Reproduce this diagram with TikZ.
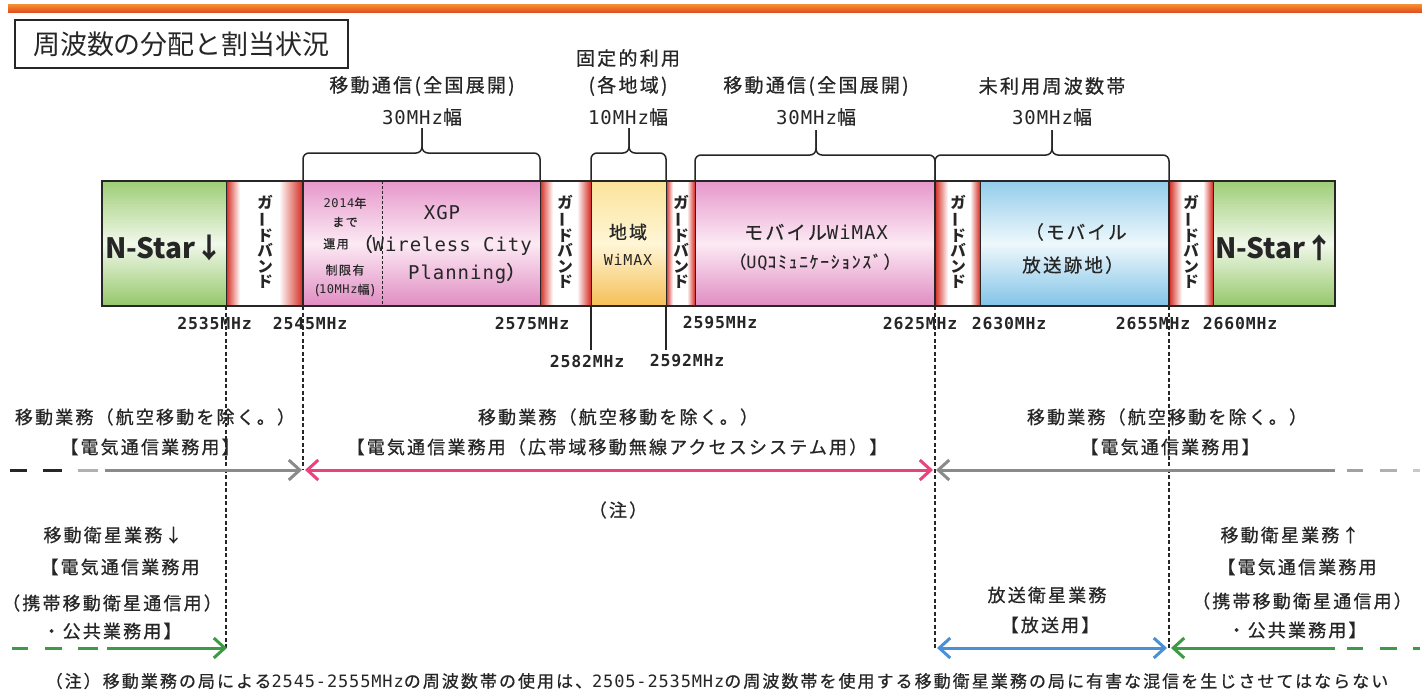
\documentclass[tikz,border=0pt]{standalone}
\usepackage{fontspec}
\usepackage{graphicx}
\setmainfont{Noto Sans CJK JP}[LetterSpace=12, RawFeature={embolden=0.7}]
\newfontfamily\jpn{Noto Sans CJK JP}
\newfontfamily\mono{DejaVu Sans Mono}[LetterSpace=5]
\usetikzlibrary{arrows.meta}
\newcommand\lat[1]{{\mono #1}}
\definecolor{txt}{HTML}{262626}
\definecolor{gbred}{HTML}{D42A20}
\definecolor{grnA}{HTML}{9ECD76}
\definecolor{grnB}{HTML}{F1F8EA}
\definecolor{grnC}{HTML}{94C76A}
\definecolor{pnkA}{HTML}{E697CB}
\definecolor{pnkB}{HTML}{FCEAF4}
\definecolor{pnkC}{HTML}{E08CC2}
\definecolor{bluA}{HTML}{93CDEB}
\definecolor{bluB}{HTML}{EEF8FC}
\definecolor{bluC}{HTML}{82C3E7}
\definecolor{ylwA}{HTML}{FBE39A}
\definecolor{ylwB}{HTML}{FFF6D6}
\definecolor{ylwC}{HTML}{F5BF57}
\definecolor{agray}{HTML}{8A8A8A}
\definecolor{lgray}{HTML}{B0B0B0}
\definecolor{apink}{HTML}{E8437C}
\definecolor{agreen}{HTML}{3D9B45}
\definecolor{ablue}{HTML}{4B90D6}
\definecolor{topor}{HTML}{F28A30}
\definecolor{topred}{HTML}{E0471E}
\newcommand\gband[4]{%
  \fill[white] (#1,181) rectangle (#2,306);
  \shade[left color=gbred, right color=white] (#1,181) rectangle ({#1+#3},306);
  \shade[left color=white, right color=gbred] ({#2-#4},181) rectangle (#2,306);
}
\newcommand\gbtxt{ガ\\\rotatebox[origin=c]{90}{ー}\\ド\\バ\\ン\\ド}
\begin{document}
\begin{tikzpicture}[x=1pt,y=-1pt,
  every node/.style={inner sep=0pt, text=txt},
  up/.style={font=\fontsize{19}{22}\selectfont},
  bot/.style={font=\fontsize{18}{21}\selectfont},
  sm/.style={font=\fontsize{12}{14}\selectfont},
  inb/.style={font=\fontsize{19}{22}\selectfont},
  freq/.style={font=\mono\bfseries\fontsize{16.5}{19}\selectfont},
  gbt/.style={align=center, font=\jpn\bfseries\fontsize{15.5}{15.5}\selectfont},
  nstar/.style={font=\jpn\bfseries\fontsize{28}{30}\selectfont},
  brace/.style={draw=txt, line width=1.5pt, rounded corners=6pt},
  vdash/.style={draw=txt, line width=1.1pt, dash pattern=on 4pt off 2.5pt},
  tick/.style={draw=txt, line width=1.2pt},
  arr/.style={line width=3pt, -{Straight Barb[length=11pt,width=20pt]}},
  darr/.style={line width=3pt, {Straight Barb[length=11pt,width=20pt]}-{Straight Barb[length=11pt,width=20pt]}},
  seg/.style={line width=3pt},
  vshade/.style n args={3}{top color=#1, bottom color=#3, middle color=#2}
]
\fill[white] (0,0) rectangle (1422,693);
\useasboundingbox (0,0) rectangle (1422,693);

% top rule
\shade[top color=topor, bottom color=topred] (8,5) rectangle (1422,13);

% title
\node[draw=txt, line width=2pt, minimum width=333pt, minimum height=48pt,
      font=\jpn\fontsize{27}{30}\selectfont] (title) at (181.5,44) {周波数の分配と割当状況};

% ---------- band bar ----------
\shade[vshade={grnA}{grnB}{grnC}] (102,181) rectangle (226,306);
\gband{226}{303}{14}{24}
\shade[vshade={pnkA}{pnkB}{pnkC}] (303,181) rectangle (540,306);
\gband{540}{591}{13}{14}
\shade[vshade={ylwA}{ylwB}{ylwC}] (591,181) rectangle (666,306);
\gband{666}{695}{7}{8}
\shade[vshade={pnkA}{pnkB}{pnkC}] (695,181) rectangle (935,306);
\gband{935}{980}{13}{10}
\shade[vshade={bluA}{bluB}{bluC}] (980,181) rectangle (1169,306);
\gband{1169}{1213}{13}{10}
\shade[vshade={grnA}{grnB}{grnC}] (1213,181) rectangle (1335,306);

% dividers
\foreach \xx in {226,540,591,666,695,980,1213} {\draw[line width=1pt, txt] (\xx,181) -- (\xx,306);}
\foreach \xx in {303,935,1169} {\draw[line width=1.8pt, txt] (\xx,181) -- (\xx,306);}
\draw[txt, line width=1pt, dash pattern=on 3pt off 2pt] (382,181) -- (382,306);
\draw[line width=2.5pt, txt] (102,181) rectangle (1335,306);

% bar texts
\node[nstar] (nsd) at (164,248) {N-Star↓};
\node[nstar] (nsu) at (1274,248) {N-Star↑};
\node[gbt] (gb1) at (265,242) {\gbtxt};
\node[gbt] (gb2) at (565,242) {\gbtxt};
\node[gbt] (gb3) at (681,242) {\gbtxt};
\node[gbt] (gb4) at (958,242) {\gbtxt};
\node[gbt] (gb5) at (1191,242) {\gbtxt};

\node[sm] (y1) at (345,203) {\lat{2014}年};
\node[sm] (y2) at (345,222) {まで};
\node[sm] (y3) at (336,244) {運用};
\node[sm] (y4) at (345,270) {制限有};
\node[sm] (y5) at (345,290) {(\lat{10MHz}幅)};

\node[inb] (xgp) at (442,213) {\lat{XGP}};
\node[inb, anchor=east] (wc) at (532,245) {（\lat{Wireless City}};
\node[inb, anchor=west] (pl) at (408,273) {\lat{Planning}）};

\node[font=\fontsize{18}{20}\selectfont] (ch1) at (628,232) {地域};
\node[font=\fontsize{15}{18}\selectfont] (ch2) at (628,260) {\lat{WiMAX}};

\node[inb] (mw1) at (816,232) {モバイル\lat{WiMAX}};
\node[font=\fontsize{17}{20}\selectfont] (mw2) at (815,262) {（\lat{UQ}ｺﾐｭﾆｹｰｼｮﾝｽﾞ）};

\node[font=\fontsize{18.5}{21}\selectfont] (mb1) at (1076,232) {（モバイル};
\node[font=\fontsize{18.5}{21}\selectfont] (mb2) at (1073,265) {放送跡地）};

% braces
\draw[brace] (303,181) -- (303,153) -- (422,153) -- (422,128);
\draw[brace] (540,181) -- (540,153) -- (422,153) -- (422,128);
\draw[brace] (591,181) -- (591,153) -- (629,153) -- (629,128);
\draw[brace] (666,181) -- (666,153) -- (629,153) -- (629,128);
\draw[brace] (695,181) -- (695,155) -- (816,155) -- (816,130);
\draw[brace] (935,181) -- (935,155) -- (816,155) -- (816,130);
\draw[brace] (935,181) -- (935,155) -- (1052,155) -- (1052,130);
\draw[brace] (1169,181) -- (1169,155) -- (1052,155) -- (1052,130);

% upper labels
\node[up] (u1a) at (422,86) {移動通信(全国展開)};
\node[up] (u1b) at (422,117) {\lat{30MHz}幅};
\node[up] (u2o) at (628,58) {固定的利用};
\node[up] (u2a) at (628,86) {(各地域)};
\node[up] (u2b) at (628,117) {\lat{10MHz}幅};
\node[up] (u3a) at (816,86) {移動通信(全国展開)};
\node[up] (u3b) at (816,117) {\lat{30MHz}幅};
\node[up] (u4a) at (1052,86) {未利用周波数帯};
\node[up] (u4b) at (1052,117) {\lat{30MHz}幅};

% frequency labels
\node[freq] (f2535) at (214.5,323) {2535MHz};
\node[freq] (f2545) at (310,323) {2545MHz};
\node[freq] (f2575) at (532,323) {2575MHz};
\node[freq] (f2582) at (587,361) {2582MHz};
\node[freq] (f2592) at (687,361) {2592MHz};
\node[freq] (f2595) at (720,323) {2595MHz};
\node[freq] (f2625) at (920,323) {2625MHz};
\node[freq] (f2630) at (1009,323) {2630MHz};
\node[freq] (f2655) at (1153,323) {2655MHz};
\node[freq] (f2660) at (1240,323) {2660MHz};

\draw[tick] (591,306) -- (591,350);
\draw[tick] (666,306) -- (666,350);

% boundary coordinates
\coordinate (a226) at (226,648);
\coordinate (a303) at (303,470);
\coordinate (a935t) at (935,470);
\coordinate (a935b) at (935,648);
\coordinate (a1169) at (1169,648);

\draw[vdash] (226,306) -- (a226);
\draw[vdash] (303,306) -- (a303);
\draw[vdash] (935,306) -- (a935b);
\draw[vdash] (1169,306) -- (a1169);

% lower labels
\node[bot] (l1) at (155,417) {移動業務（航空移動を除く。）};
\node[bot] (l2) at (150,447) {【電気通信業務用】};
\node[bot] (m1) at (618,417) {移動業務（航空移動を除く。）};
\node[bot] (m2) at (617,447) {【電気通信業務用（広帯域移動無線アクセスシステム用）】};
\node[bot] (r1) at (1167,417) {移動業務（航空移動を除く。）};
\node[bot] (r2) at (1170,447) {【電気通信業務用】};
\node[bot] (chu) at (618,510) {（注）};

\node[bot] (sl1) at (113,535) {移動衛星業務↓};
\node[bot] (sl2) at (120,567) {【電気通信業務用};
\node[bot] (sl3) at (112,603) {（携帯移動衛星通信用）};
\node[bot] (sl4) at (112,631) {・公共業務用】};
\node[bot] (sr1) at (1290,535) {移動衛星業務↑};
\node[bot] (sr2) at (1297,567) {【電気通信業務用};
\node[bot] (sr3) at (1302,601) {（携帯移動衛星通信用）};
\node[bot] (sr4) at (1297,630) {・公共業務用】};
\node[bot] (bs1) at (1047,595) {放送衛星業務};
\node[bot] (bs2) at (1050,625) {【放送用】};

% arrows: row 1
\coordinate (gL1) at (10,470); \coordinate (gL2) at (27,470);
\coordinate (gL3) at (43,470); \coordinate (gL4) at (62,470);
\coordinate (gL5) at (78,470); \coordinate (gL6) at (98,470);
\coordinate (gL7) at (105,470);
\draw[seg, txt] (gL1) -- (gL2);
\draw[seg, txt] (gL3) -- (gL4);
\draw[seg, lgray] (gL5) -- (gL6);
\draw[arr, agray] (gL7) -- ([xshift=-1pt]a303);
\draw[darr, apink] ([xshift=2pt]a303) -- ([xshift=-2pt]a935t);
\coordinate (gR7) at (1335,470);
\draw[arr, agray] (gR7) -- ([xshift=1pt]a935t);
\draw[seg, agray!80] (1347,470) -- (1363,470);
\draw[seg, lgray] (1380,470) -- (1397,470);
\draw[seg, lgray!70] (1413,470) -- (1420,470);

% arrows: row 2
\draw[seg, agreen] (12,648) -- (28,648);
\draw[seg, agreen] (45,648) -- (62,648);
\draw[seg, agreen] (78,648) -- (98,648);
\coordinate (sL) at (107,648);
\draw[arr, agreen] (sL) -- ([xshift=1pt]a226);
\draw[darr, ablue] ([xshift=2pt]a935b) -- ([xshift=-2pt]a1169);
\coordinate (sR) at (1335,648);
\draw[arr, agreen] (sR) -- ([xshift=2pt]a1169);
\draw[seg, agreen] (1347,648) -- (1363,648);
\draw[seg, agreen] (1380,648) -- (1397,648);
\draw[seg, agreen] (1413,648) -- (1420,648);

% note
\node[font=\fontsize{17}{20}\selectfont] (note) at (717,681)
 {（注）移動業務の局による\lat{2545-2555MHz}の周波数帯の使用は、\lat{2505-2535MHz}の周波数帯を使用する移動衛星業務の局に有害な混信を生じさせてはならない};
\end{tikzpicture}
\end{document}
